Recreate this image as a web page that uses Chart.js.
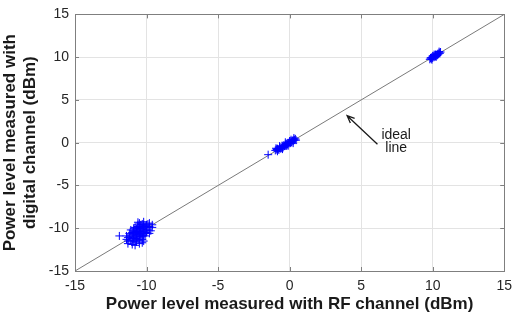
<!DOCTYPE html>
<html>
<head>
<meta charset="utf-8">
<script src="https://cdn.jsdelivr.net/npm/chart.js@4"></script>
<style>
  html, body { margin: 0; padding: 0; background: #fff; }
  #wrap { width: 519px; height: 317px; }
</style>
</head>
<body>
<div id="wrap"><canvas id="chart" width="519" height="317"></canvas></div>
<script>
// measured points, [RF channel dBm, digital channel dBm]
const clusterLow = [
  [-10.6,-10.5],[-10.4,-10.2],[-10.8,-10.9],[-10.2,-9.8],[-11.0,-11.2],[-10.5,-10.0],
  [-10.7,-10.7],[-10.3,-10.6],[-10.9,-10.3],[-10.1,-10.1],[-11.1,-10.8],[-10.6,-11.3],
  [-10.4,-9.6],[-10.0,-9.9],[-10.8,-11.5],[-11.2,-11.0],[-10.5,-10.8],[-10.2,-10.4],
  [-10.7,-10.1],[-10.9,-11.1],[-10.3,-9.5],[-10.0,-10.5],[-11.0,-10.5],[-10.6,-9.8],
  [-10.4,-11.0],[-10.8,-10.4],[-10.1,-9.7],[-10.5,-11.4],[-11.1,-11.4],[-10.7,-11.6],
  [-10.3,-10.9],[-9.9,-10.2],[-10.9,-10.0],[-10.6,-10.3],[-10.2,-10.8],[-11.3,-11.1],
  [-10.4,-10.4],[-10.8,-10.6],[-10.0,-9.6],[-10.5,-9.4],[-10.7,-11.2],[-10.1,-10.6],
  [-11.0,-11.6],[-10.3,-10.0],[-10.6,-11.0],[-10.9,-10.7],[-10.2,-9.6],[-10.4,-10.7],
  [-11.2,-10.6],[-10.5,-10.6],[-9.8,-9.8],[-10.8,-9.9],[-10.0,-10.3],[-10.6,-9.6],
  [-10.3,-11.3],[-11.1,-10.2],[-10.7,-10.4],[-10.4,-9.9],[-10.9,-11.4],[-10.1,-10.9],
  [-11.9,-10.9],[-10.5,-11.8],[-10.2,-11.5],[-11.3,-11.5],[-9.9,-9.5],[-10.6,-9.3],
  [-9.6,-9.9],[-9.7,-10.3],[-9.6,-9.6],[-9.8,-9.4],[-10.2,-9.25],[-11.4,-11.3],
  [-11.3,-11.8],[-11.0,-11.9],[-11.4,-10.9],[-9.8,-10.6],[-10.8,-12.0],[-10.3,-11.7]
];
const clusterMid = [
  [-1.0,-0.9],[-0.9,-0.8],[-0.8,-0.75],[-0.7,-0.6],[-0.65,-0.7],[-0.6,-0.5],
  [-0.5,-0.45],[-0.45,-0.55],[-0.4,-0.3],[-0.35,-0.4],[-0.3,-0.2],[-0.25,-0.3],
  [-0.2,-0.1],[-0.15,-0.2],[-0.1,0.0],[-0.05,-0.1],[0.0,0.05],[0.05,-0.05],
  [0.1,0.15],[0.15,0.05],[0.2,0.25],[0.25,0.2],[0.3,0.35],[0.35,0.3],[0.4,0.45],
  [-0.55,-0.65],[-0.75,-0.85],[-0.85,-0.7],[0.0,0.2],[-0.2,-0.35],[-1.5,-1.4],
  [-0.7,-0.4],[-0.5,-0.75],[-0.3,0.05],[-0.1,-0.35],[0.1,0.35],[0.25,-0.05],
  [-0.85,-1.0],[-0.95,-0.65],[0.45,0.3],[0.3,0.55]
];
const clusterHigh = [
  [9.8,9.75],[9.85,9.9],[9.9,9.8],[9.95,10.0],[10.0,9.9],[10.05,10.1],[10.1,10.0],
  [10.15,10.2],[10.2,10.1],[10.25,10.3],[10.3,10.2],[10.35,10.4],[10.4,10.35],
  [10.45,10.5],[10.5,10.45],[10.55,10.6],[10.0,10.15],[10.2,10.3],[9.9,9.95],[10.35,10.25],
  [10.1,10.3],[10.25,10.05],[9.95,9.7],[10.45,10.65]
];
const idealLine = [-15, 15];
const tickValues = [-15, -10, -5, 0, 5, 10, 15];

const measured = clusterLow.concat(clusterMid, clusterHigh).map(p => ({ x: p[0], y: p[1] }));

// arrow + label, in data units
const note = { tip: [4.02, 3.16], tail: [6.14, -0.17], textX: 7.45, lines: [['ideal', 0.4], ['line', -1.09]] };

const frame = {
  id: 'frame',
  beforeDatasetsDraw(chart) {
    const { ctx, chartArea: a, scales } = chart;
    ctx.save();
    ctx.strokeStyle = '#7f7f7f';
    ctx.lineWidth = 1;
    ctx.beginPath();
    tickValues.forEach(v => {
      const px = Math.round(scales.x.getPixelForValue(v)) + 0.5;
      const py = Math.round(scales.y.getPixelForValue(v)) + 0.5;
      ctx.moveTo(px, a.bottom); ctx.lineTo(px, a.bottom - 4);
      ctx.moveTo(px, a.top); ctx.lineTo(px, a.top + 4);
      ctx.moveTo(a.left, py); ctx.lineTo(a.left + 4, py);
      ctx.moveTo(a.right, py); ctx.lineTo(a.right - 4, py);
    });
    ctx.stroke();
    ctx.strokeRect(Math.round(a.left) + 0.5, Math.round(a.top) + 0.5,
      Math.round(a.right - a.left), Math.round(a.bottom - a.top));
    ctx.restore();
  },
  afterDraw(chart) {
    const { ctx, scales } = chart;
    const x1 = scales.x.getPixelForValue(note.tail[0]), y1 = scales.y.getPixelForValue(note.tail[1]);
    const x2 = scales.x.getPixelForValue(note.tip[0]), y2 = scales.y.getPixelForValue(note.tip[1]);
    const ang = Math.atan2(y2 - y1, x2 - x1);
    ctx.save();
    ctx.strokeStyle = '#1a1a1a';
    ctx.lineWidth = 1.3;
    ctx.beginPath();
    ctx.moveTo(x1, y1); ctx.lineTo(x2, y2);
    ctx.moveTo(x2 - 8 * Math.cos(ang - 0.4), y2 - 8 * Math.sin(ang - 0.4));
    ctx.lineTo(x2, y2);
    ctx.lineTo(x2 - 8 * Math.cos(ang + 0.4), y2 - 8 * Math.sin(ang + 0.4));
    ctx.stroke();
    ctx.fillStyle = '#1a1a1a';
    ctx.font = '14px "Liberation Sans", Arial, sans-serif';
    ctx.textAlign = 'center';
    ctx.textBaseline = 'alphabetic';
    note.lines.forEach(([t, v]) => {
      ctx.fillText(t, scales.x.getPixelForValue(note.textX), scales.y.getPixelForValue(v));
    });
    ctx.restore();
  }
};

const tickFont = { family: '"Liberation Sans", Arial, sans-serif', size: 14 };
const titleFont = { family: '"Liberation Sans", Arial, sans-serif', size: 17, weight: 'bold' };

new Chart(document.getElementById('chart'), {
  type: 'scatter',
  data: {
    datasets: [
      {
        label: 'measured',
        data: measured,
        pointStyle: 'cross',
        pointRadius: 4,
        borderColor: '#0000ff',
        backgroundColor: '#0000ff',
        borderWidth: 1
      },
      {
        type: 'line',
        label: 'ideal line',
        data: idealLine.map(v => ({ x: v, y: v })),
        borderColor: '#7a7a7a',
        borderWidth: 1,
        pointRadius: 0
      }
    ]
  },
  plugins: [frame],
  options: {
    responsive: false,
    animation: false,
    layout: { padding: { top: 10, right: 7, left: 0, bottom: 0 } },
    plugins: { legend: { display: false }, tooltip: { enabled: false } },
    scales: {
      x: {
        min: -15, max: 15,
        afterBuildTicks: s => { s.ticks = tickValues.map(v => ({ value: v })); },
        afterFit: s => { s.height = 46; },
        grid: { color: '#e3e3e3', drawTicks: false },
        border: { display: false },
        ticks: { color: '#262626', font: tickFont, padding: 7, maxRotation: 0 },
        title: { display: true, text: 'Power level measured with RF channel (dBm)', color: '#1a1a1a', font: titleFont, padding: { top: 0, bottom: 2 } }
      },
      y: {
        min: -15, max: 15,
        afterBuildTicks: s => { s.ticks = tickValues.map(v => ({ value: v })); },
        afterFit: s => { s.width = 75; },
        grid: { color: '#e3e3e3', drawTicks: false },
        border: { display: false },
        ticks: { color: '#262626', font: tickFont, padding: 6 },
        title: { display: true, text: ['Power level measured with', 'digital channel (dBm)'], color: '#1a1a1a', font: titleFont, padding: { top: 0, bottom: 2 } }
      }
    }
  }
});
</script>
</body>
</html>
